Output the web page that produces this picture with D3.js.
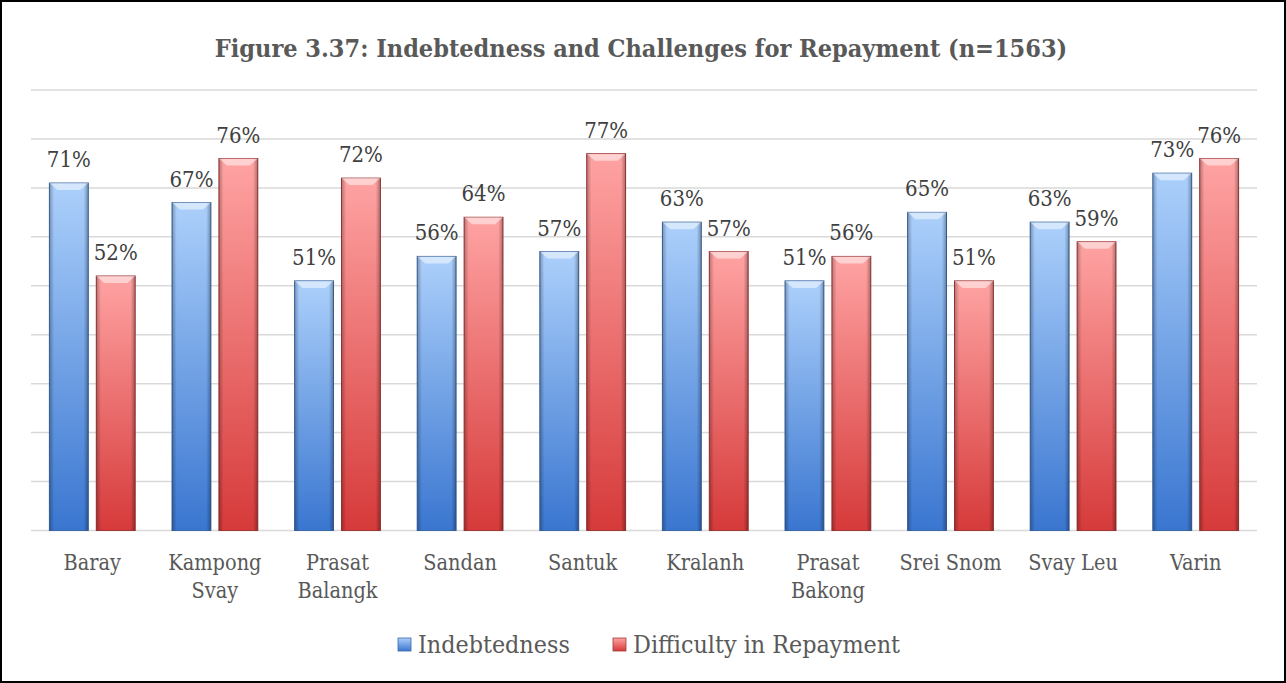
<!DOCTYPE html>
<html>
<head>
<meta charset="utf-8">
<script src="https://cdn.jsdelivr.net/npm/d3@7"></script>
<style>
  body { margin: 0; background: #fff; }
  svg text { font-family: "DejaVu Serif Condensed", "DejaVu Serif", "Liberation Serif", serif; font-stretch: condensed; }
</style>
</head>
<body>
<svg id="chart" width="1286" height="683"></svg>
<script>
const districts = ["Baray", "Kampong Svay", "Prasat Balangk", "Sandan", "Santuk",
  "Kralanh", "Prasat Bakong", "Srei Snom", "Svay Leu", "Varin"];
const indebtedness = [71, 67, 51, 56, 57, 63, 51, 65, 63, 73];
const difficulty = [52, 76, 72, 64, 77, 57, 56, 51, 59, 76];
const seriesNames = ["Indebtedness", "Difficulty in Repayment"];
const yTicks = [0, 10, 20, 30, 40, 50, 60, 70, 80, 90];

const WIDTH = 1286, HEIGHT = 683;
const PLOT = { left: 31, right: 1257, top: 90, bottom: 530.5 };

const svg = d3.select("#chart");

// frame
svg.append("rect")
  .attr("x", 1).attr("y", 1)
  .attr("width", WIDTH - 2).attr("height", HEIGHT - 2)
  .attr("fill", "#fff").attr("stroke", "#000").attr("stroke-width", 2);

// gradients
const defs = svg.append("defs");
const grads = [
  { id: "g0", top: "#acd0fb", bottom: "#3a76d0" },
  { id: "g1", top: "#ffa3a3", bottom: "#d63a3a" }
];
grads.forEach(g => {
  const lg = defs.append("linearGradient").attr("id", g.id)
    .attr("x1", 0).attr("y1", 0).attr("x2", 0).attr("y2", 1);
  lg.append("stop").attr("offset", "0%").attr("stop-color", g.top);
  lg.append("stop").attr("offset", "100%").attr("stop-color", g.bottom);
});
const edge = defs.append("linearGradient").attr("id", "edge")
  .attr("x1", 0).attr("y1", 0).attr("x2", 1).attr("y2", 0);
[[0, 0.28], [0.12, 0], [0.88, 0], [1, 0.32]].forEach(s =>
  edge.append("stop").attr("offset", s[0]).attr("stop-color", "#000").attr("stop-opacity", s[1]));

// scales
const x0 = d3.scaleBand().domain(districts)
  .range([PLOT.left, PLOT.right]).paddingInner(0.3).paddingOuter(0.15);
const x1 = d3.scaleBand().domain([0, 1])
  .range([0, x0.bandwidth()]).paddingInner(0.17);
const y = d3.scaleLinear().domain([0, 90]).range([PLOT.bottom, PLOT.top]);

// gridlines
svg.append("g").selectAll("line").data(yTicks).join("line")
  .attr("x1", PLOT.left).attr("x2", PLOT.right)
  .attr("y1", d => y(d)).attr("y2", d => y(d))
  .attr("stroke", "#d9d9d9").attr("stroke-width", 1.5);

// title
svg.append("text")
  .attr("x", 641).attr("y", 57)
  .attr("text-anchor", "middle")
  .attr("font-size", 25).attr("font-weight", "bold")
  .attr("fill", "#595959")
  .text("Figure 3.37: Indebtedness and Challenges for Repayment (n=1563)");

const rows = districts.map((d, i) => ({ district: d, values: [indebtedness[i], difficulty[i]] }));

const groups = svg.append("g").selectAll("g").data(rows).join("g")
  .attr("transform", d => "translate(" + x0(d.district) + ",0)");

const bars = groups.selectAll("g.bar")
  .data(d => d.values.map((v, k) => ({ k: k, v: v })))
  .join("g").attr("class", "bar");

bars.append("rect")
  .attr("x", d => x1(d.k)).attr("y", d => y(d.v))
  .attr("width", x1.bandwidth()).attr("height", d => y(0) - y(d.v))
  .attr("fill", d => "url(#g" + d.k + ")")
  .attr("stroke", d => d.k ? "#a33a3a" : "#3d6aa8").attr("stroke-width", 1);
bars.append("rect")
  .attr("x", d => x1(d.k)).attr("y", d => y(d.v))
  .attr("width", x1.bandwidth()).attr("height", d => y(0) - y(d.v))
  .attr("fill", "url(#edge)");
// bevel highlight on top
bars.append("path")
  .attr("d", d => {
    const bx = x1(d.k), bw = x1.bandwidth(), by = y(d.v);
    return "M" + bx + "," + by + "L" + (bx + bw) + "," + by +
      "L" + (bx + bw - 8) + "," + (by + 7) + "L" + (bx + 8) + "," + (by + 7) + "Z";
  })
  .attr("fill", "#fff").attr("opacity", 0.5);

// value labels
bars.append("text")
  .attr("x", d => x1(d.k) + x1.bandwidth() / 2)
  .attr("y", d => y(d.v) - 16)
  .attr("text-anchor", "middle")
  .attr("font-size", 22).attr("fill", "#404040")
  .text(d => d.v + "%");

// category labels (wrapped)
const catG = svg.append("g");
districts.forEach(d => {
  const t = catG.append("text")
    .attr("x", x0(d) + x0.bandwidth() / 2).attr("y", 570)
    .attr("text-anchor", "middle")
    .attr("font-size", 21.5).attr("fill", "#595959")
    .text(d);
  if (t.node().getComputedTextLength() > x0.step() * 0.9) {
    const words = d.split(" ");
    t.text(null);
    words.forEach((w, i) => {
      t.append("tspan").attr("x", x0(d) + x0.bandwidth() / 2)
        .attr("dy", i ? 28 : 0).text(w);
    });
  }
});

// legend
const legendX = [398, 613];
const legend = svg.append("g").selectAll("g").data(seriesNames).join("g")
  .attr("transform", (d, i) => "translate(" + legendX[i] + ",645)");
legend.append("rect")
  .attr("x", 0).attr("y", -7).attr("width", 13).attr("height", 13)
  .attr("fill", (d, i) => "url(#g" + i + ")")
  .attr("stroke", (d, i) => i ? "#a33a3a" : "#3d6aa8").attr("stroke-width", 0.8);
legend.append("text")
  .attr("x", 20).attr("y", 8)
  .attr("font-size", 24.8).attr("fill", "#595959")
  .text(d => d);
</script>
</body>
</html>
